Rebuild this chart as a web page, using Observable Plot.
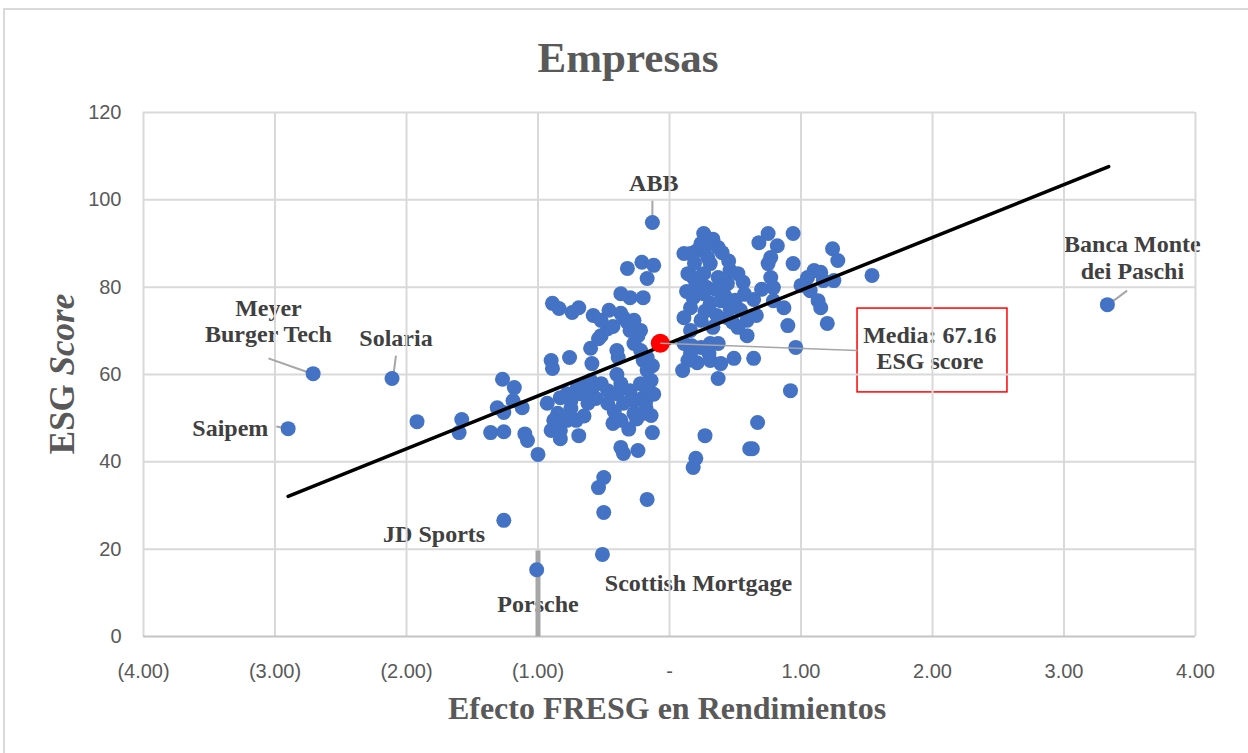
<!DOCTYPE html>
<html><head><meta charset="utf-8">
<script src="https://cdn.jsdelivr.net/npm/d3@7"></script>
<script src="https://cdn.jsdelivr.net/npm/@observablehq/plot@0.6"></script>
<style>
body{margin:0;background:#fff;width:1248px;height:753px;overflow:hidden;position:relative;}
#frame{position:absolute;left:3px;top:8px;width:1262px;height:770px;border:2px solid #d9d9d9;box-sizing:border-box}
#title{position:absolute;left:0;top:36px;width:1256px;text-align:center;font:bold 43px "Liberation Serif",serif;color:#595959;line-height:43px}
#chart{position:absolute;left:0;top:90px}
</style></head><body>
<div id="frame"></div>
<div id="title">Empresas</div>
<div id="chart"></div>
<script>
// Efecto FRESG en Rendimientos (x) and ESG score (y), one entry per company
const fresgEffect = [
 -0.13,-2.71,-2.11,-2.90,-1.26,-1.01,-0.51,3.33,
 -1.92,-1.58,-1.60,-1.27,-1.18,-1.19,-1.31,-1.26,-1.12,-1.36,-1.26,-1.10,-1.08,-1.00,
 -0.90,-0.89,-0.76,-0.89,-0.84,-0.74,-0.69,-0.58,-0.46,-0.37,-0.30,-0.20,-0.32,-0.21,-0.12,-0.17,
 -0.52,-0.47,-0.60,-0.59,-0.40,-0.39,-0.35,-0.32,-0.30,-0.24,-0.27,-0.22,-0.20,-0.17,-0.14,-0.17,
 -0.52,-0.37,-0.27,-0.54,-0.22,-0.37,-0.30,-0.47,-0.52,-0.60,-0.70,-0.78,-0.83,-0.27,-0.75,
 -0.93,-0.85,-0.88,-0.90,-0.83,-0.83,-0.78,-0.71,-0.69,-0.75,-0.68,-0.62,-0.59,-0.62,-0.47,-0.43,
 -0.37,-0.40,-0.35,-0.37,-0.35,-0.24,-0.27,-0.20,-0.14,-0.20,-0.13,-0.50,-0.54,-0.50,-0.17,
 -0.22,-0.17,-0.18,
 0.26,0.24,0.21,0.16,0.37,0.40,0.29,0.31,0.14,0.18,0.26,0.37,0.46,0.52,0.56,0.44,
 0.75,0.68,0.82,0.94,0.77,0.75,0.94,0.77,0.79,1.24,1.28,1.10,1.05,1.00,1.17,1.25,1.07,1.13,1.15,1.20,
 0.90,0.87,0.79,0.16,0.18,0.26,0.31,0.39,0.46,0.54,0.59,0.44,0.11,0.24,0.33,0.52,0.16,1.54,1.15,0.11,0.57,0.64,
 0.17,0.24,0.37,0.16,0.21,0.30,0.31,0.39,0.14,0.10,0.49,0.64,0.37,0.59,0.96,0.92,0.67,0.27,0.63,0.20,0.18,0.11,0.31,0.61,
 0.13,0.20,0.28,0.35,0.42,0.50,0.27,0.36,0.48,0.66,0.70,0.33,0.28,0.19,0.45,
 -0.43,-0.56,-0.65,-0.42,-0.31,-0.25,-0.18,-0.12,-0.13,-0.40
];
const esgScore = [
 94.8,60.2,59.1,47.6,26.6,15.3,18.8,76.0,
 49.2,49.7,46.7,58.9,57.0,54.0,52.4,51.3,52.4,46.7,46.9,46.4,44.9,41.7,
 63.2,61.4,63.9,76.3,75.1,74.2,75.3,73.5,74.7,78.5,77.6,77.6,84.3,85.7,85.0,82.0,
 68.9,70.5,66.0,62.5,65.5,63.9,73.0,71.9,70.1,68.9,67.1,65.5,63.2,60.9,58.6,57.0,
 72.4,74.0,72.4,68.2,57.9,57.9,56.3,56.3,57.9,58.6,57.0,55.6,54.7,54.0,52.2,
 53.4,51.1,49.5,47.2,47.2,45.3,49.5,49.5,46.0,54.0,55.6,53.4,55.6,57.9,53.4,48.8,
 49.5,55.6,53.4,43.3,41.9,42.6,51.1,51.1,50.6,54.7,46.7,36.4,34.1,28.4,31.4,
 70.1,63.9,54.0,
 92.3,90.0,88.4,87.7,89.1,87.9,86.8,85.4,83.1,82.2,83.1,82.2,83.8,83.1,81.1,80.8,
 92.3,90.2,89.5,92.3,86.8,85.4,85.4,82.2,79.9,88.8,86.1,83.8,82.2,80.4,81.5,81.5,79.2,76.9,75.3,71.7,
 71.2,75.3,76.9,75.3,77.6,78.5,76.3,76.9,75.3,74.7,72.4,73.0,73.0,72.4,70.8,70.8,70.1,82.7,83.4,87.7,78.4,77.2,
 66.6,66.2,67.1,64.8,62.7,64.8,63.2,62.5,63.2,60.9,63.7,63.7,59.1,68.9,66.2,56.3,49.0,46.0,43.0,40.8,38.7,67.1,67.1,43.0,
 79.0,80.5,80.0,79.5,78.0,77.0,74.5,73.5,72.0,73.5,79.5,91.0,89.5,85.5,86.0,
 71.0,54.5,50.5,51.5,47.5,49.8,52.5,55.5,62.0,60.0
];

// Mean ESG score
const meanX = [-0.07];
const meanY = [67.16];

// Trend line end points
const trendX = [-2.90, 3.34];
const trendY = [32.1, 107.6];

// Company labels
const labelNames = ["ABB", "Meyer\nBurger Tech", "Solaria", "Saipem", "JD Sports", "Porsche", "Scottish Mortgage", "Banca Monte\ndei Paschi"];
const labelX = [-0.12, -3.05, -2.08, -3.34, -1.79, -1.00, 0.22, 3.52];
const labelY = [104.0, 72.4, 68.5, 47.9, 23.6, 7.6, 12.4, 86.9];

// Label leader lines
const leaderX1 = [-0.13, -3.05, -2.08, -2.99, 3.48];
const leaderY1 = [99.8, 63.7, 64.3, 48.1, 79.2];
const leaderX2 = [-0.13, -2.75, -2.10, -2.90, 3.35];
const leaderY2 = [96.2, 60.5, 59.8, 47.6, 76.3];
const porscheLeaderX = [-1.00];
const porscheLeaderY = [19.7, 0];

// Mean annotation
const meanLabel = ["Media: 67.16\nESG score"];
const meanLabelX = [1.98];
const meanLabelY = [66.1];
const meanBoxX = [1.43, 2.57];
const meanBoxY = [55.9, 75.1];
const meanLeaderEnd = [1.43, 65.5];

// Ticks
const xTicks = [-4, -3, -2, -1, 0, 1, 2, 3, 4];
const yTicks = [0, 20, 40, 60, 80, 100, 120];

const points = fresgEffect.map((x, i) => ({x, y: esgScore[i]}));
const labels = labelNames.map((t, i) => ({t, x: labelX[i], y: labelY[i]}));
const leaders = leaderX1.map((x1, i) => ({x1, y1: leaderY1[i], x2: leaderX2[i], y2: leaderY2[i]}));
const trend = trendX.map((x, i) => ({x, y: trendY[i]}));
const meanPt = [{x: meanX[0], y: meanY[0]}];

const fmtX = d => d < 0 ? `(${Math.abs(d).toFixed(2)})` : d === 0 ? "-" : d.toFixed(2);

const plot = Plot.plot({
  width: 1248, height: 663,
  marginLeft: 143, marginRight: 53, marginTop: 22, marginBottom: 117,
  x: {domain: [-4, 4]},
  y: {domain: [0, 120]},
  style: {fontFamily: "Liberation Sans", background: "transparent", overflow: "visible"},
  marks: [
    Plot.text(labels, {x: "x", y: "y", text: "t", fontFamily: "Liberation Serif", fontWeight: "bold", fontSize: 24, fill: "#404040", lineHeight: 1.12}),
    Plot.rect([{x1: meanBoxX[0], x2: meanBoxX[1], y1: meanBoxY[0], y2: meanBoxY[1]}], {x1: "x1", x2: "x2", y1: "y1", y2: "y2", fill: "white", stroke: "#ff0000", strokeWidth: 1.5}),
    Plot.text(meanLabel, {x: meanLabelX, y: meanLabelY, text: d => d, fontFamily: "Liberation Serif", fontWeight: "bold", fontSize: 24, fill: "#404040", lineHeight: 1.05}),
    Plot.ruleX(xTicks, {stroke: "#d9d9d9", strokeWidth: 2}),
    Plot.ruleY(yTicks.filter(d => d > 0), {stroke: "#d9d9d9", strokeWidth: 2}),
    Plot.ruleY([0], {stroke: "#c4c4c4", strokeWidth: 2}),
    Plot.axisX(xTicks, {tickSize: 0, tickPadding: 27, tickFormat: fmtX, fontSize: 20, color: "#595959", label: null}),
    Plot.axisY(yTicks, {tickSize: 0, tickPadding: 22, fontSize: 20, color: "#595959", label: null}),
    Plot.link(leaders, {x1: "x1", y1: "y1", x2: "x2", y2: "y2", stroke: "#a6a6a6", strokeWidth: 2}),
    Plot.link([0], {x1: porscheLeaderX, x2: porscheLeaderX, y1: [porscheLeaderY[0]], y2: [porscheLeaderY[1]], stroke: "#a6a6a6", strokeWidth: 5}),
    Plot.dot(points, {x: "x", y: "y", r: 7.5, fill: "#4472c4"}),
    Plot.line(trend, {x: "x", y: "y", stroke: "black", strokeWidth: 3.5}),
    Plot.dot(meanPt, {x: "x", y: "y", r: 9.5, fill: "#ff0000"}),
    Plot.link([0], {x1: meanX, y1: meanY, x2: [meanLeaderEnd[0]], y2: [meanLeaderEnd[1]], stroke: "#a6a6a6", strokeWidth: 1.5})
  ]
});

const svg = d3.select(plot);
const yl = svg.append("text")
  .attr("transform", "translate(62,284) rotate(-90)")
  .attr("text-anchor", "middle").attr("dominant-baseline", "central")
  .attr("font-family", "Liberation Serif").attr("font-weight", "bold").attr("font-size", 35).attr("fill", "#595959");
yl.append("tspan").text("ESG ");
yl.append("tspan").attr("font-style", "italic").text("Score");
svg.append("text")
  .attr("x", 667).attr("y", 618)
  .attr("text-anchor", "middle").attr("dominant-baseline", "central")
  .attr("font-family", "Liberation Serif").attr("font-weight", "bold").attr("font-size", 32).attr("fill", "#595959")
  .text("Efecto FRESG en Rendimientos");

document.getElementById("chart").appendChild(plot);
</script>
</body></html>
